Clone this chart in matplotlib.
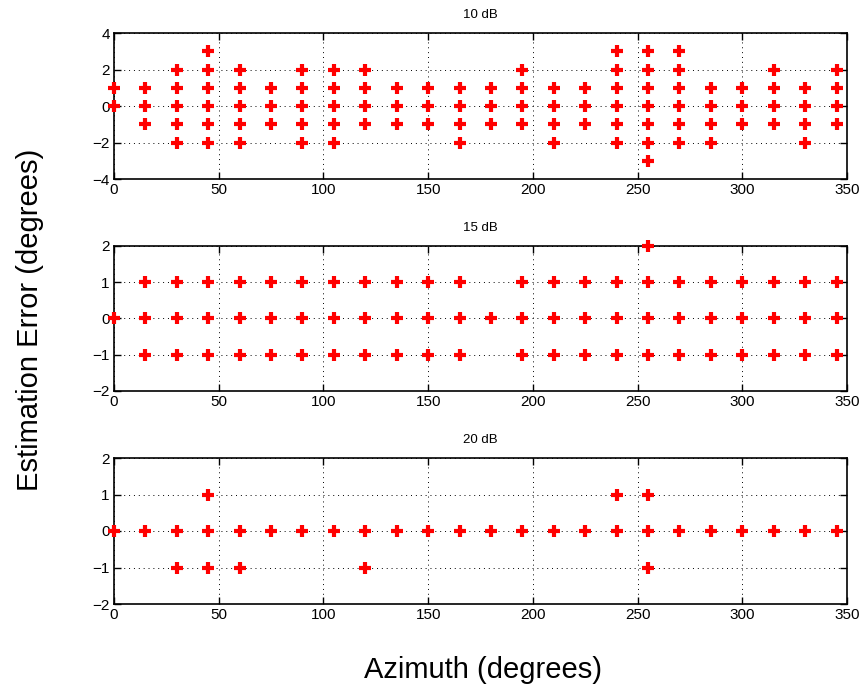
import matplotlib
matplotlib.use("Agg")
import matplotlib.pyplot as plt
from matplotlib.ticker import MultipleLocator

plt.rcParams['font.family'] = ['Liberation Sans', 'DejaVu Sans']

azimuths = list(range(0, 360, 15))

# errors observed at each azimuth (10 dB)
err_10db = {
    0: [1, 0], 15: [1, 0, -1], 30: [2, 1, 0, -1, -2], 45: [3, 2, 1, 0, -1, -2],
    60: [2, 1, 0, -1, -2], 75: [1, 0, -1], 90: [2, 1, 0, -1, -2],
    105: [2, 1, 0, -1, -2], 120: [2, 1, 0, -1], 135: [1, 0, -1], 150: [1, 0, -1],
    165: [1, 0, -1, -2], 180: [1, 0, -1], 195: [2, 1, 0, -1], 210: [1, 0, -1, -2],
    225: [1, 0, -1], 240: [3, 2, 1, 0, -1, -2], 255: [3, 2, 1, 0, -1, -2, -3],
    270: [3, 2, 1, 0, -1, -2], 285: [1, 0, -1, -2], 300: [1, 0, -1],
    315: [2, 1, 0, -1], 330: [1, 0, -1, -2], 345: [2, 1, 0, -1],
}
err_15db = {a: [1, 0, -1] for a in azimuths}
err_15db[0] = [0]
err_15db[180] = [0]
err_15db[255] = [2, 1, 0, -1]
err_20db = {a: [0] for a in azimuths}
err_20db[30] = [0, -1]
err_20db[45] = [1, 0, -1]
err_20db[60] = [0, -1]
err_20db[120] = [0, -1]
err_20db[240] = [1, 0]
err_20db[255] = [1, 0, -1]

titles = ['10 dB', '15 dB', '20 dB']
ylims = [(-4, 4), (-2, 2), (-2, 2)]
ysteps = [2, 1, 1]
datasets = [err_10db, err_15db, err_20db]

W, H = 865, 689
fig = plt.figure(figsize=(W / 100, H / 100), dpi=100)
boxes = [(33, 179), (246, 391), (458, 604)]
left, right = 114, 847

for (top, bot), title, yl, ys, data in zip(boxes, titles, ylims, ysteps, datasets):
    ax = fig.add_axes([left / W, 1 - bot / H, (right - left) / W, (bot - top) / H])
    xs, ysv = [], []
    for a in azimuths:
        for e in data.get(a, []):
            xs.append(a)
            ysv.append(e)
    ax.plot(xs, ysv, linestyle='none', marker='+', color='red', ms=8.5, mew=3,
            clip_on=False, zorder=3)
    ax.set_xlim(0, 350)
    ax.set_ylim(*yl)
    ax.xaxis.set_major_locator(MultipleLocator(50))
    ax.yaxis.set_major_locator(MultipleLocator(ys))
    ax.grid(True, color='black', linestyle=(0, (1, 4)), linewidth=0.7)
    ax.tick_params(direction='in', top=True, right=True, labelsize=11, length=5,
                   width=1, pad=3)
    for s in ax.spines.values():
        s.set_linewidth(1.2)
    ax.set_title(title, fontsize=9.5, pad=11)

fig.text(30 / W, 1 - 320 / H, 'Estimation Error (degrees)', rotation=90,
         ha='center', va='center', fontsize=21)
fig.text(483 / W, 1 - 670 / H, 'Azimuth (degrees)', ha='center', va='center',
         fontsize=21)

fig.savefig('out.png', dpi=100)
